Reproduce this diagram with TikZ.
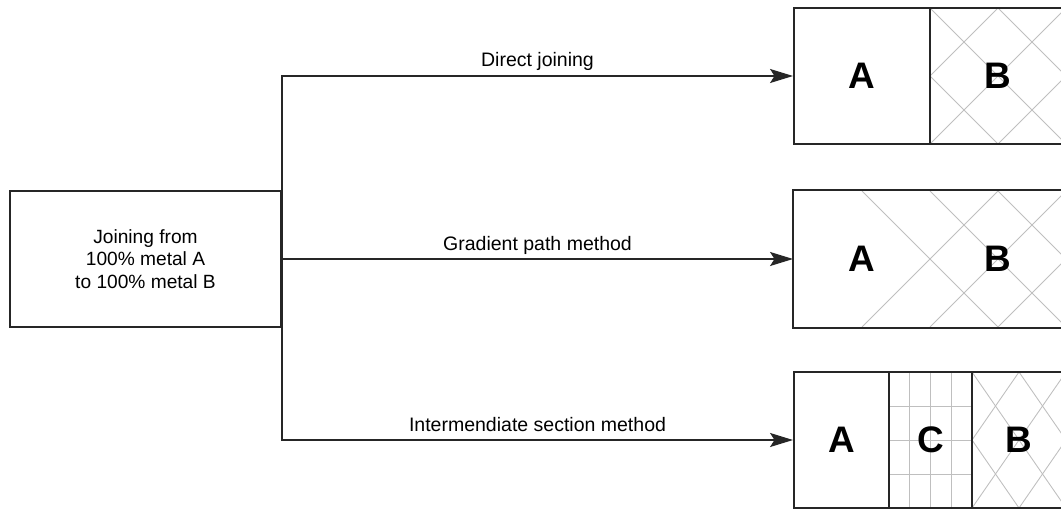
\documentclass[tikz,border=0pt]{standalone}
\usepackage{fontspec}
\setmainfont{Liberation Sans}
\usetikzlibrary{arrows.meta}

\begin{document}
\begin{tikzpicture}[
    line width=1.1pt,
    cell/.style={draw=black!85, minimum height=2.72cm, inner sep=0pt,
        font=\fontsize{21}{21}\selectfont\bfseries},
    hatch/.style={black!25, line width=0.5pt},
    link/.style={draw=black!85, -{Stealth[length=0.46cm, width=0.28cm, inset=0.09cm]}},
    lbl/.style={anchor=base, yshift=0.18cm, font=\fontsize{11.1}{12.75}\selectfont},
]
    \useasboundingbox (0,0) rectangle (21.22,10.18);

    % hatching of the metal B parts
    \begin{scope}
        \clip (18.6,7.3) rectangle (21.32,10.02);
        \foreach \k in {-2,...,3} {
            \draw[hatch] (18.6+1.36*\k,10.02) -- ++(2.72,-2.72);
            \draw[hatch] (18.6+1.36*\k,10.02) -- ++(-2.72,-2.72);
        }
    \end{scope}
    \begin{scope}
        \clip (15.88,3.64) rectangle (21.32,6.36);
        \foreach \k in {-1,...,2} \draw[hatch] (18.6+1.36*\k,6.36) -- ++(2.72,-2.72);
        \foreach \k in {1,...,4} \draw[hatch] (18.6+1.36*\k,6.36) -- ++(-2.72,-2.72);
    \end{scope}
    \begin{scope}
        \clip (19.44,0.02) rectangle (21.32,2.74);
        \foreach \k in {-2,...,4} {
            \draw[hatch] (19.44+0.94*\k,2.74) -- ++(1.88,-2.72);
            \draw[hatch] (19.44+0.94*\k,2.74) -- ++(-1.88,-2.72);
        }
    \end{scope}
    % grid of metal C
    \foreach \i in {1,2,3} {
        \draw[hatch] (17.78+0.415*\i,0.02) -- ++(0,2.72);
        \draw[hatch] (17.78,0.02+0.68*\i) -- ++(1.66,0);
    }

    \node[draw=black!85, minimum width=5.42cm, minimum height=2.72cm, inner sep=0pt,
        align=center, font=\fontsize{10.9}{12.75}\selectfont] (src) at (2.91,5.0)
        {Joining from\\100\% metal A\\to 100\% metal B};

    \node[cell, minimum width=2.72cm] (topA) at (17.24,8.66) {A};
    \node[cell, minimum width=2.72cm] (topB) at (19.96,8.66) {B};

    \node[cell, draw=none, minimum width=2.72cm] (midA) at (17.24,5.0) {A};
    \node[cell, draw=none, minimum width=2.72cm] (midB) at (19.96,5.0) {B};
    \draw[black!85] (midA.north west) rectangle (midB.south east);

    \node[cell, minimum width=1.9cm] (lowA) at (16.83,1.38) {A};
    \node[cell, minimum width=1.66cm] (lowC) at (18.61,1.38) {C};
    \node[cell, minimum width=1.88cm] (lowB) at (20.38,1.38) {B};

    \draw[link] (src.east) |- (topA.west) node[lbl, pos=0.75] {Direct joining};
    \draw[link] (src.east) -- (midA.west) node[lbl, midway] {Gradient path method};
    \draw[link] (src.east) |- (lowA.west) node[lbl, pos=0.75] {Intermendiate section method};
\end{tikzpicture}
\end{document}
